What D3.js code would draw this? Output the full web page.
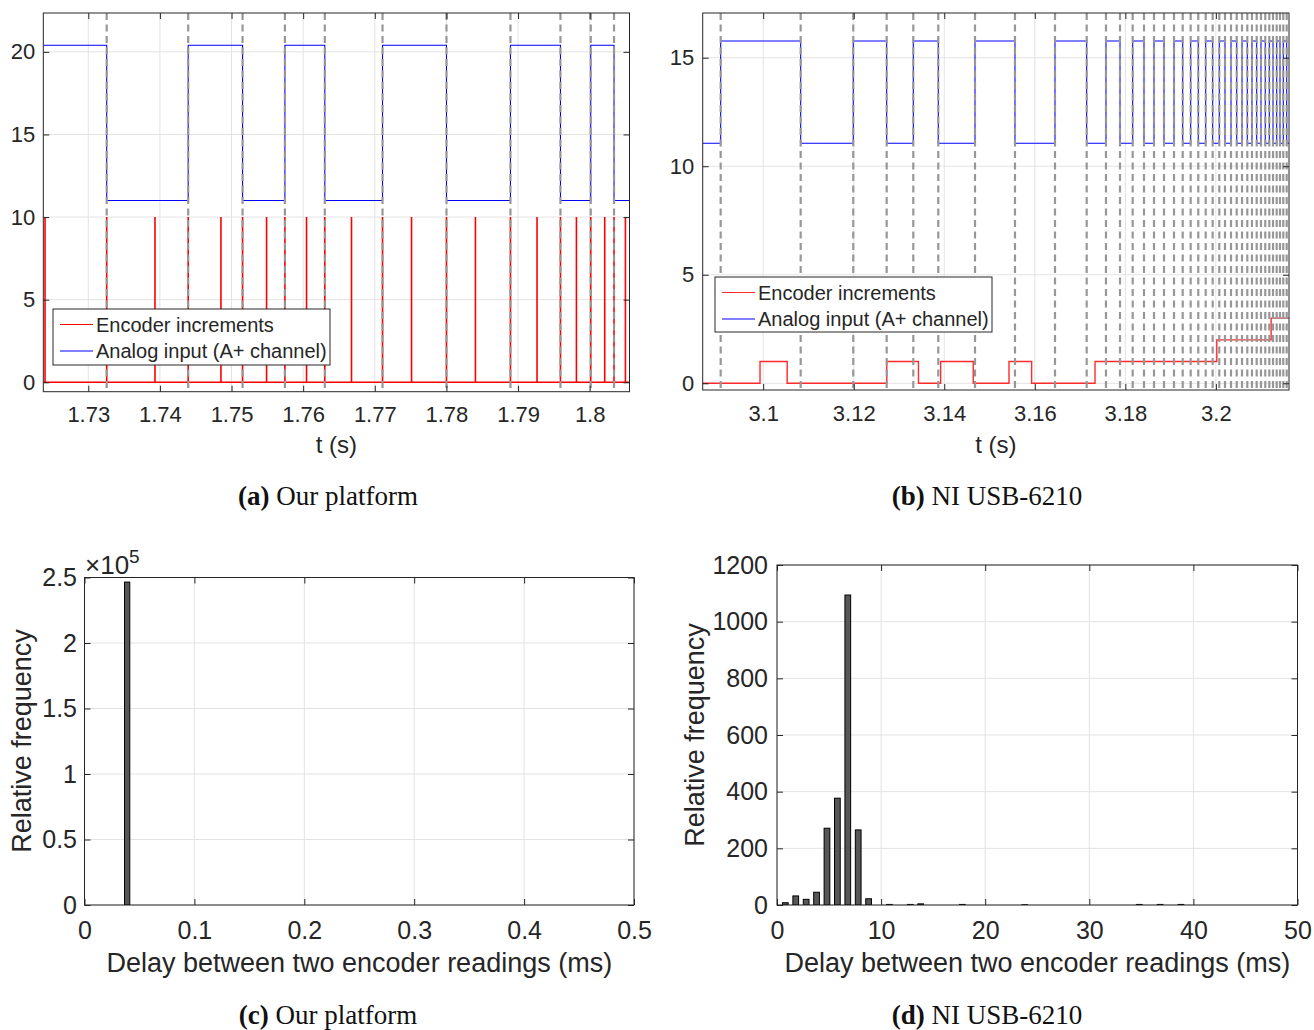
<!DOCTYPE html>
<html><head><meta charset="utf-8">
<script src="https://cdn.jsdelivr.net/npm/d3@7"></script>
<style>
html,body{margin:0;padding:0;background:#fff;}
svg{display:block;}
text{font-family:"Liberation Sans",Arial,Helvetica,sans-serif;fill:#262626;}
.cap{font-family:"Liberation Serif","Times New Roman",serif;fill:#111;}
</style></head><body>
<svg id="fig" width="1314" height="1030"></svg>
<script>
// ---------------- DATA ----------------
// Panel (a): Our platform
const aXLim = [1.72372, 1.80556];
const aYLim = [-0.57, 22.35];
const aXTicks = [1.73, 1.74, 1.75, 1.76, 1.77, 1.78, 1.79, 1.80];
const aXTickLabels = ["1.73", "1.74", "1.75", "1.76", "1.77", "1.78", "1.79", "1.8"];
const aYTicks = [0, 5, 10, 15, 20];
const aYTickLabels = ["0", "5", "10", "15", "20"];
const aAnalogLevels = [11.0, 20.4];      // low, high
const aAnalogStartHigh = true;
const aEdgeTimes = [1.73257, 1.74395, 1.75154, 1.75745, 1.76302, 1.77108, 1.78001, 1.78894, 1.79592, 1.80015, 1.80340];
const aSpikeTimes = [1.72396, 1.73257, 1.73931, 1.74395, 1.74852, 1.75154, 1.75489, 1.75745, 1.76047, 1.76302,
  1.76675, 1.77108, 1.77513, 1.78001, 1.78405, 1.78894, 1.79265, 1.79592, 1.79815, 1.80015, 1.80210, 1.80340, 1.80499];
const aSpikeHeight = 10;

// Panel (b): NI USB-6210
const bXLim = [3.08664, 3.21615];
const bYLim = [-0.31, 17.06];
const bXTicks = [3.10, 3.12, 3.14, 3.16, 3.18, 3.20];
const bXTickLabels = ["3.1", "3.12", "3.14", "3.16", "3.18", "3.2"];
const bYTicks = [0, 5, 10, 15];
const bYTickLabels = ["0", "5", "10", "15"];
const bAnalogLevels = [11.06, 15.77];
const bAnalogStartHigh = false;
const bEdgeTimes = [3.09061, 3.10828, 3.11990, 3.12728, 3.13316, 3.13868, 3.14679, 3.15562, 3.16446, 3.17146,
  3.17572, 3.17882, 3.18162, 3.18412, 3.18633, 3.18854, 3.19075, 3.19267, 3.19443, 3.19611, 3.19775, 3.19929,
  3.20075, 3.20201, 3.20334, 3.20460, 3.20577, 3.20694, 3.20797, 3.20901, 3.20996, 3.21091, 3.21180, 3.21262,
  3.21343, 3.21416, 3.21489, 3.21564];
const bCountStart = 0;
const bCountTimes = [3.0993, 3.1053, 3.1273, 3.1343, 3.1392, 3.1464, 3.1543, 3.1593, 3.1733, 3.2002, 3.2122];
const bCountValues = [1, 0, 1, 0, 1, 0, 1, 0, 1, 2, 3];

// Panel (c): histogram, our platform
const cXLim = [0, 0.5];
const cYLim = [0, 250000];
const cXTicks = [0, 0.1, 0.2, 0.3, 0.4, 0.5];
const cXTickLabels = ["0", "0.1", "0.2", "0.3", "0.4", "0.5"];
const cYTicks = [0, 50000, 100000, 150000, 200000, 250000];
const cYTickLabels = ["0", "0.5", "1", "1.5", "2", "2.5"];
const cBinCenters = [0.0388];
const cCounts = [246500];
const cBinWidth = 0.0048;

// Panel (d): histogram, NI USB-6210
const dXLim = [0, 50];
const dYLim = [0, 1200];
const dXTicks = [0, 10, 20, 30, 40, 50];
const dXTickLabels = ["0", "10", "20", "30", "40", "50"];
const dYTicks = [0, 200, 400, 600, 800, 1000, 1200];
const dYTickLabels = ["0", "200", "400", "600", "800", "1000", "1200"];
const dBinCenters = [0.8, 1.8, 2.8, 3.8, 4.8, 5.8, 6.8, 7.8, 8.8, 10.8, 12.8, 13.8, 17.8, 23.8, 34.8, 36.8, 38.8];
const dCounts = [8, 32, 20, 45, 271, 377, 1094, 265, 22, 2, 2, 4, 2, 1, 2, 2, 2];
const dBinWidth = 0.55;

const legendLabels = ["Encoder increments", "Analog input (A+ channel)"];

// ---------------- DRAWING ----------------
const svg = d3.select("#fig");
const FRAME = "#262626", GRID = "#e3e3e3";
let clipId = 0;

function makePanel(box, xDom, yDom) {
  const x = d3.scaleLinear().domain(xDom).range([box.l, box.r]);
  const y = d3.scaleLinear().domain(yDom).range([box.b, box.t]);
  const g = svg.append("g");
  const id = "clip" + (clipId++);
  svg.append("clipPath").attr("id", id).append("rect")
    .attr("x", box.l).attr("y", box.t).attr("width", box.r - box.l).attr("height", box.b - box.t);
  const grid = g.append("g");
  const plot = g.append("g").attr("clip-path", `url(#${id})`);
  return {box, x, y, g, grid, plot};
}

function drawGrid(p, xTicks, yTicks) {
  p.grid.selectAll("line.gx").data(xTicks).join("line").attr("class", "gx")
    .attr("x1", d => p.x(d)).attr("x2", d => p.x(d)).attr("y1", p.box.t).attr("y2", p.box.b)
    .attr("stroke", GRID).attr("stroke-width", 1);
  p.grid.selectAll("line.gy").data(yTicks).join("line").attr("class", "gy")
    .attr("y1", d => p.y(d)).attr("y2", d => p.y(d)).attr("x1", p.box.l).attr("x2", p.box.r)
    .attr("stroke", GRID).attr("stroke-width", 1);
}

function drawAxes(p, o) {
  const {box, x, y, g} = p;
  const tl = 6;
  const style = (sel, fs) => {
    sel.select(".domain").remove();
    sel.attr("color", FRAME).attr("font-size", fs);
    sel.selectAll("line").attr("stroke-width", 1);
  };
  g.append("g").attr("transform", `translate(0,${box.b})`)
    .call(d3.axisBottom(x).tickValues(o.xTicks).tickFormat((d, i) => o.xLabels[i])
      .tickSizeInner(-tl).tickSizeOuter(0).tickPadding(o.xPad))
    .call(s => style(s, o.fs));
  g.append("g").attr("transform", `translate(0,${box.t})`)
    .call(d3.axisTop(x).tickValues(o.xTicks).tickFormat(() => "").tickSizeInner(-tl).tickSizeOuter(0))
    .call(s => style(s, o.fs));
  g.append("g").attr("transform", `translate(${box.l},0)`)
    .call(d3.axisLeft(y).tickValues(o.yTicks).tickFormat((d, i) => o.yLabels[i])
      .tickSizeInner(-tl).tickSizeOuter(0).tickPadding(o.yPad))
    .call(s => style(s, o.fs));
  g.append("g").attr("transform", `translate(${box.r},0)`)
    .call(d3.axisRight(y).tickValues(o.yTicks).tickFormat(() => "").tickSizeInner(-tl).tickSizeOuter(0))
    .call(s => style(s, o.fs));
  g.append("rect").attr("x", box.l).attr("y", box.t).attr("width", box.r - box.l).attr("height", box.b - box.t)
    .attr("fill", "none").attr("stroke", FRAME).attr("stroke-width", 1);
}

function squareWave(xLim, edges, levels, startHigh) {
  let hi = startHigh;
  const pts = [[xLim[0], levels[hi ? 1 : 0]]];
  edges.forEach(t => {
    pts.push([t, levels[hi ? 1 : 0]]);
    hi = !hi;
    pts.push([t, levels[hi ? 1 : 0]]);
  });
  pts.push([xLim[1], levels[hi ? 1 : 0]]);
  return pts;
}

function drawDashed(p, edges) {
  p.plot.append("g").selectAll("line").data(edges).join("line")
    .attr("x1", d => p.x(d)).attr("x2", d => p.x(d)).attr("y1", p.box.t).attr("y2", p.box.b)
    .attr("stroke", "#979797").attr("stroke-width", 2.2).attr("stroke-dasharray", "7,4.5");
}

function drawLegend(lx, ly, w, h, rows) {
  const g = svg.append("g");
  g.append("rect").attr("x", lx).attr("y", ly).attr("width", w).attr("height", h)
    .attr("fill", "#fff").attr("stroke", FRAME).attr("stroke-width", 1);
  rows.forEach((r, i) => {
    const cy = ly + 15.5 + i * 26.5;
    g.append("line").attr("x1", lx + 7).attr("x2", lx + 40).attr("y1", cy).attr("y2", cy)
      .attr("stroke", r.color).attr("stroke-width", 1.2);
    g.append("text").attr("x", lx + 43).attr("y", cy).attr("dy", "0.35em")
      .attr("font-size", 20).text(r.label);
  });
}

function caption(cx, by, letter, rest) {
  const t = svg.append("text").attr("class", "cap").attr("x", cx).attr("y", by)
    .attr("text-anchor", "middle").attr("font-size", 27);
  t.append("tspan").attr("font-weight", "bold").text("(" + letter + ")");
  t.append("tspan").text(" " + rest);
}

const line = d3.line();

// ----- Panel (a)
{
  const p = makePanel({l: 43.3, r: 629.5, t: 13, b: 391.7}, aXLim, aYLim);
  drawGrid(p, aXTicks, aYTicks);
  const wave = squareWave(aXLim, aEdgeTimes, aAnalogLevels, aAnalogStartHigh);
  p.plot.append("path").attr("d", line(wave.map(d => [p.x(d[0]), p.y(d[1])])))
    .attr("fill", "none").attr("stroke", "#0000ff").attr("stroke-width", 1.1);
  const spk = [[aXLim[0], 0]];
  aSpikeTimes.forEach(t => { spk.push([t, 0], [t, aSpikeHeight], [t, 0]); });
  spk.push([aXLim[1], 0]);
  p.plot.append("path").attr("d", line(spk.map(d => [p.x(d[0]), p.y(d[1])])))
    .attr("fill", "none").attr("stroke", "#ff0000").attr("stroke-width", 1.6);
  drawDashed(p, aEdgeTimes);
  drawLegend(53, 309, 277, 56, [{color: "#ff0000", label: legendLabels[0]}, {color: "#0000ff", label: legendLabels[1]}]);
  drawAxes(p, {xTicks: aXTicks, xLabels: aXTickLabels, yTicks: aYTicks, yLabels: aYTickLabels, fs: 22, xPad: 14.5, yPad: 8});
  svg.append("text").attr("x", 336.4).attr("y", 453).attr("text-anchor", "middle").attr("font-size", 24).text("t (s)");
  caption(328, 505, "a", "Our platform");
}

// ----- Panel (b)
{
  const p = makePanel({l: 702.7, r: 1289, t: 13, b: 390}, bXLim, bYLim);
  drawGrid(p, bXTicks, bYTicks);
  const wave = squareWave(bXLim, bEdgeTimes, bAnalogLevels, bAnalogStartHigh);
  p.plot.append("path").attr("d", line(wave.map(d => [p.x(d[0]), p.y(d[1])])))
    .attr("fill", "none").attr("stroke", "#0000ff").attr("stroke-width", 1.1);
  const cnt = [[bXLim[0], bCountStart]].concat(bCountTimes.map((t, i) => [t, bCountValues[i]]));
  cnt.push([bXLim[1], bCountValues[bCountValues.length - 1]]);
  const stepLine = d3.line().curve(d3.curveStepAfter);
  p.plot.append("path").attr("d", stepLine(cnt.map(d => [p.x(d[0]), p.y(d[1])])))
    .attr("fill", "none").attr("stroke", "#ff2a2a").attr("stroke-width", 1.4);
  drawDashed(p, bEdgeTimes);
  drawLegend(715, 277, 277, 55, [{color: "#ff2a2a", label: legendLabels[0]}, {color: "#0000ff", label: legendLabels[1]}]);
  drawAxes(p, {xTicks: bXTicks, xLabels: bXTickLabels, yTicks: bYTicks, yLabels: bYTickLabels, fs: 22, xPad: 15.5, yPad: 8.5});
  svg.append("text").attr("x", 995.8).attr("y", 453).attr("text-anchor", "middle").attr("font-size", 24).text("t (s)");
  caption(987, 505, "b", "NI USB-6210");
}

// ----- Panel (c)
{
  const p = makePanel({l: 84.5, r: 634, t: 577.5, b: 905}, cXLim, cYLim);
  drawGrid(p, cXTicks, cYTicks);
  p.plot.selectAll("rect.bar").data(cBinCenters).join("rect").attr("class", "bar")
    .attr("x", d => p.x(d - cBinWidth / 2)).attr("width", d => p.x(d + cBinWidth / 2) - p.x(d - cBinWidth / 2))
    .attr("y", (d, i) => p.y(cCounts[i])).attr("height", (d, i) => p.y(0) - p.y(cCounts[i]))
    .attr("fill", "#575757").attr("stroke", "#000").attr("stroke-width", 1);
  drawAxes(p, {xTicks: cXTicks, xLabels: cXTickLabels, yTicks: cYTicks, yLabels: cYTickLabels, fs: 25, xPad: 16, yPad: 7.5});
  const ex = svg.append("text").attr("x", 85).attr("y", 574).attr("font-size", 26);
  ex.append("tspan").text("\u00d710");
  ex.append("tspan").attr("dy", -11).attr("font-size", 19).text("5");
  svg.append("text").attr("x", 359.3).attr("y", 972).attr("text-anchor", "middle").attr("font-size", 27)
    .text("Delay between two encoder readings (ms)");
  svg.append("text").attr("transform", "translate(31,741) rotate(-90)").attr("text-anchor", "middle")
    .attr("font-size", 27).text("Relative frequency");
  caption(328, 1024, "c", "Our platform");
}

// ----- Panel (d)
{
  const p = makePanel({l: 777, r: 1297.5, t: 565, b: 905}, dXLim, dYLim);
  drawGrid(p, dXTicks, dYTicks);
  p.plot.selectAll("rect.bar").data(dBinCenters).join("rect").attr("class", "bar")
    .attr("x", d => p.x(d - dBinWidth / 2)).attr("width", d => p.x(d + dBinWidth / 2) - p.x(d - dBinWidth / 2))
    .attr("y", (d, i) => p.y(dCounts[i])).attr("height", (d, i) => p.y(0) - p.y(dCounts[i]))
    .attr("fill", "#575757").attr("stroke", "#000").attr("stroke-width", 1);
  drawAxes(p, {xTicks: dXTicks, xLabels: dXTickLabels, yTicks: dYTicks, yLabels: dYTickLabels, fs: 25, xPad: 16, yPad: 9});
  svg.append("text").attr("x", 1037.3).attr("y", 972).attr("text-anchor", "middle").attr("font-size", 27)
    .text("Delay between two encoder readings (ms)");
  svg.append("text").attr("transform", "translate(704,735) rotate(-90)").attr("text-anchor", "middle")
    .attr("font-size", 27).text("Relative frequency");
  caption(987, 1024, "d", "NI USB-6210");
}
</script>
</body></html>
